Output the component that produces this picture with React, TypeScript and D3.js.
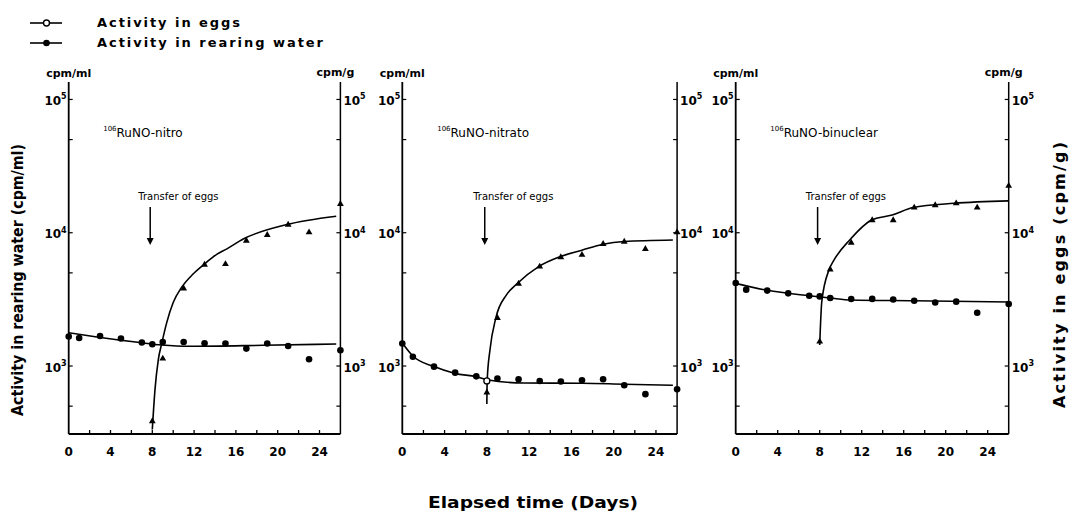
import React from "react";
import * as d3 from "d3";

// elapsed days on x, activity on a log y scale
const xLabelTicks = [0, 4, 8, 12, 16, 20, 24];
const xSmallTicks = [2, 6, 10, 14, 18, 22];
const decadeTicks = [1e3, 1e4, 1e5];
const halfTicks = [500, 5000, 50000];

// 106RuNO-nitro
const nitroWater = [[0, 1664], [1, 1624], [3, 1680], [5, 1607], [7, 1500], [8, 1456], [9, 1515], [11, 1515], [13, 1482], [15, 1475], [17, 1351], [19, 1475], [21, 1413], [23, 1123], [26, 1313]];
const nitroEggs = [[8, 385], [9, 1136], [11, 3820], [13, 5750], [15, 5820], [17, 8710], [19, 9620], [21, 11480], [23, 10070], [26, 16440]];
const nitroWaterFit = [[0, 1780], [2.7, 1652], [6.8, 1500], [8.9, 1438], [11.6, 1406], [18.6, 1430], [25.6, 1463]];
const nitroEggFit = [[8, 334], [8.26, 668], [8.58, 1123], [8.9, 1473], [9.38, 2118], [10, 2997], [10.8, 3890], [11.9, 4900], [12.9, 5750], [14.2, 6920], [15.1, 7540], [16.7, 8970], [20.8, 11480], [25.6, 13300]];

// 106RuNO-nitrato
const nitratoWater = [[0, 1476], [1, 1175], [3, 989], [5, 892], [7, 837], [9, 805], [11, 795], [13, 773], [15, 765], [17, 782], [19, 795], [21, 718], [23, 615], [26, 670]];
const nitratoEggs = [[8, 633], [9, 2296], [11, 4140], [13, 5570], [15, 6550], [17, 6820], [19, 8240], [21, 8570], [23, 7550], [26, 10100]];
const nitratoOpen = [[8, 773]];
const nitratoWaterFit = [[0, 1490], [1, 1190], [3, 990], [5, 880], [7, 830], [8, 790], [11.5, 745], [17, 743], [21, 730], [25.6, 718]];
const nitratoEggFit = [[8, 518], [8.03, 773], [8.3, 1331], [8.85, 2296], [9.87, 3430], [10.85, 4140], [12.9, 5570], [14.9, 6600], [17, 7400], [19, 8200], [21, 8600], [25.6, 8830]];

// 106RuNO-binuclear
const binuclearWater = [[0, 4200], [1, 3740], [3, 3680], [5, 3510], [7, 3370], [8, 3330], [9, 3240], [11, 3180], [13, 3190], [15, 3160], [17, 3090], [19, 3000], [21, 3040], [23, 2510], [26, 2920]];
const binuclearEggs = [[8, 1525], [9, 5300], [11, 8410], [13, 12420], [15, 12420], [17, 15450], [19, 16100], [21, 16630], [23, 15450], [26, 22500]];
const binuclearWaterFit = [[0, 4170], [3, 3700], [7, 3370], [9, 3240], [11, 3130], [17, 3090], [26, 3020]];
const binuclearEggFit = [[8, 1440], [8.2, 3050], [8.9, 5300], [9.3, 6120], [10.9, 8910], [12.9, 12420], [14.9, 13590], [16.9, 15450], [20.8, 16630], [26, 17340]];

const panelNames = ["RuNO-nitro", "RuNO-nitrato", "RuNO-binuclear"];
const transfer = { label: "Transfer of eggs", day: 7.8, from: 15600, to: 8100, textDay: 10.5 };

const panelLeft = [68.7, 402.3, 735.7];
const panelRight = [340.4, 677.1, 1008.7];
const rightUnit = [true, false, true];

const TOP = 82;
const BOTTOM = 434;
const FONT = "'DejaVu Sans', sans-serif";

const y = d3.scaleLog().domain([Math.pow(10, 2.49), Math.pow(10, 5.131)]).range([BOTTOM, TOP]);

function Pow({ x, yy, exp, anchor }) {
  return (
    <text x={x} y={yy} textAnchor={anchor} fontFamily={FONT} fontSize={12} fontWeight="bold" dominantBaseline="middle">
      10<tspan fontSize={8} dy={-5}>{exp}</tspan>
    </text>
  );
}

function Panel({ i, water, eggs, waterFit, eggFit, open }) {
  const x = d3.scaleLinear().domain([0, 26]).range([panelLeft[i], panelRight[i]]);
  const line = d3
    .line()
    .x((d) => x(d[0]))
    .y((d) => y(d[1]))
    .curve(d3.curveMonotoneX);
  const tri = d3.symbol().type(d3.symbolTriangle).size(20);
  const x0 = x(0);
  const x1 = x(26);

  return (
    <g>
      {/* frame */}
      <line x1={x0} x2={x0} y1={TOP} y2={BOTTOM} stroke="#000" strokeWidth={1.8} />
      <line x1={x1} x2={x1} y1={TOP} y2={BOTTOM} stroke="#000" strokeWidth={1.5} />
      <line x1={x0} x2={x1} y1={BOTTOM} y2={BOTTOM} stroke="#000" strokeWidth={1.8} />

      {xSmallTicks.concat(xLabelTicks.slice(1)).map((d) => (
        <line key={"xt" + d} x1={x(d)} x2={x(d)} y1={BOTTOM} y2={BOTTOM - 4} stroke="#000" strokeWidth={1.3} />
      ))}
      {xLabelTicks.map((d) => (
        <text key={"xl" + d} x={x(d)} y={456} textAnchor="middle" fontFamily={FONT} fontSize={12} fontWeight="bold">
          {d}
        </text>
      ))}

      {decadeTicks.concat(halfTicks).map((v) => (
        <g key={"yt" + v}>
          <line x1={x0} x2={x0 + 4} y1={y(v)} y2={y(v)} stroke="#000" strokeWidth={1.2} />
          <line x1={x1 - 4} x2={x1} y1={y(v)} y2={y(v)} stroke="#000" strokeWidth={1.2} />
        </g>
      ))}
      {decadeTicks.map((v) => (
        <g key={"yl" + v}>
          <Pow x={x0 - 2} yy={y(v) + 2} exp={Math.log10(v)} anchor="end" />
          <Pow x={x1 + 3} yy={y(v) + 2} exp={Math.log10(v)} anchor="start" />
        </g>
      ))}

      <text x={x0} y={77} textAnchor="middle" fontFamily={FONT} fontSize={11} fontWeight="bold">
        cpm/ml
      </text>
      {rightUnit[i] && (
        <text x={x1 - 5} y={76} textAnchor="middle" fontFamily={FONT} fontSize={11} fontWeight="bold">
          cpm/g
        </text>
      )}

      <text x={x(3.3)} y={137} fontFamily={FONT} fontSize={12}>
        <tspan fontSize={7} dy={-6}>106</tspan>
        <tspan dy={6}>{panelNames[i]}</tspan>
      </text>

      <text x={x(transfer.textDay)} y={200} textAnchor="middle" fontFamily={FONT} fontSize={10}>
        {transfer.label}
      </text>
      <line x1={x(transfer.day)} x2={x(transfer.day)} y1={y(transfer.from)} y2={y(transfer.to) - 5} stroke="#000" strokeWidth={1.5} />
      <path
        d={`M${x(transfer.day) - 3.5},${y(transfer.to) - 7}L${x(transfer.day) + 3.5},${y(transfer.to) - 7}L${x(transfer.day)},${y(transfer.to)}Z`}
        fill="#000"
      />

      <path d={line(waterFit)} fill="none" stroke="#000" strokeWidth={1.6} />
      <path d={line(eggFit)} fill="none" stroke="#000" strokeWidth={1.6} />

      {water.map((d, k) => (
        <circle key={"w" + k} cx={x(d[0])} cy={y(d[1])} r={3.3} fill="#000" />
      ))}
      {eggs.map((d, k) => (
        <path key={"e" + k} d={tri()} transform={`translate(${x(d[0])},${y(d[1])})`} fill="#000" />
      ))}
      {open.map((d, k) => (
        <circle key={"o" + k} cx={x(d[0])} cy={y(d[1])} r={3} fill="#fff" stroke="#000" strokeWidth={1.3} />
      ))}
    </g>
  );
}

export default function App() {
  return (
    <svg width={1072} height={514} style={{ display: "block", position: "absolute", left: 0, top: 0, background: "#fff" }}>
      <rect width={1072} height={514} fill="#fff" />

      {/* legend */}
      <line x1={30} x2={62} y1={23} y2={23} stroke="#000" strokeWidth={1.6} />
      <circle cx={46.5} cy={23} r={3} fill="#fff" stroke="#000" strokeWidth={1.4} />
      <text x={97} y={27} fontFamily={FONT} fontSize={13} fontWeight="bold" textLength={143} lengthAdjust="spacing">
        Activity in eggs
      </text>
      <line x1={30} x2={62} y1={43} y2={43} stroke="#000" strokeWidth={1.6} />
      <circle cx={46.5} cy={43} r={3.3} fill="#000" />
      <text x={97} y={47} fontFamily={FONT} fontSize={13} fontWeight="bold" textLength={226} lengthAdjust="spacing">
        Activity in rearing water
      </text>

      <Panel i={0} water={nitroWater} eggs={nitroEggs} waterFit={nitroWaterFit} eggFit={nitroEggFit} open={[]} />
      <Panel i={1} water={nitratoWater} eggs={nitratoEggs} waterFit={nitratoWaterFit} eggFit={nitratoEggFit} open={nitratoOpen} />
      <Panel i={2} water={binuclearWater} eggs={binuclearEggs} waterFit={binuclearWaterFit} eggFit={binuclearEggFit} open={[]} />

      <text
        transform="translate(23,280) rotate(-90)"
        textAnchor="middle"
        fontFamily={FONT}
        fontSize={15}
        fontWeight="bold"
        textLength={272}
        lengthAdjust="spacingAndGlyphs"
      >
        Activity in rearing water (cpm/ml)
      </text>
      <text
        transform="translate(1065,275) rotate(-90)"
        textAnchor="middle"
        fontFamily={FONT}
        fontSize={16}
        fontWeight="bold"
        textLength={266}
        lengthAdjust="spacing"
      >
        Activity in eggs (cpm/g)
      </text>
      <text x={533} y={508} textAnchor="middle" fontFamily={FONT} fontSize={16} fontWeight="bold" textLength={210} lengthAdjust="spacingAndGlyphs">
        Elapsed time (Days)
      </text>
    </svg>
  );
}
